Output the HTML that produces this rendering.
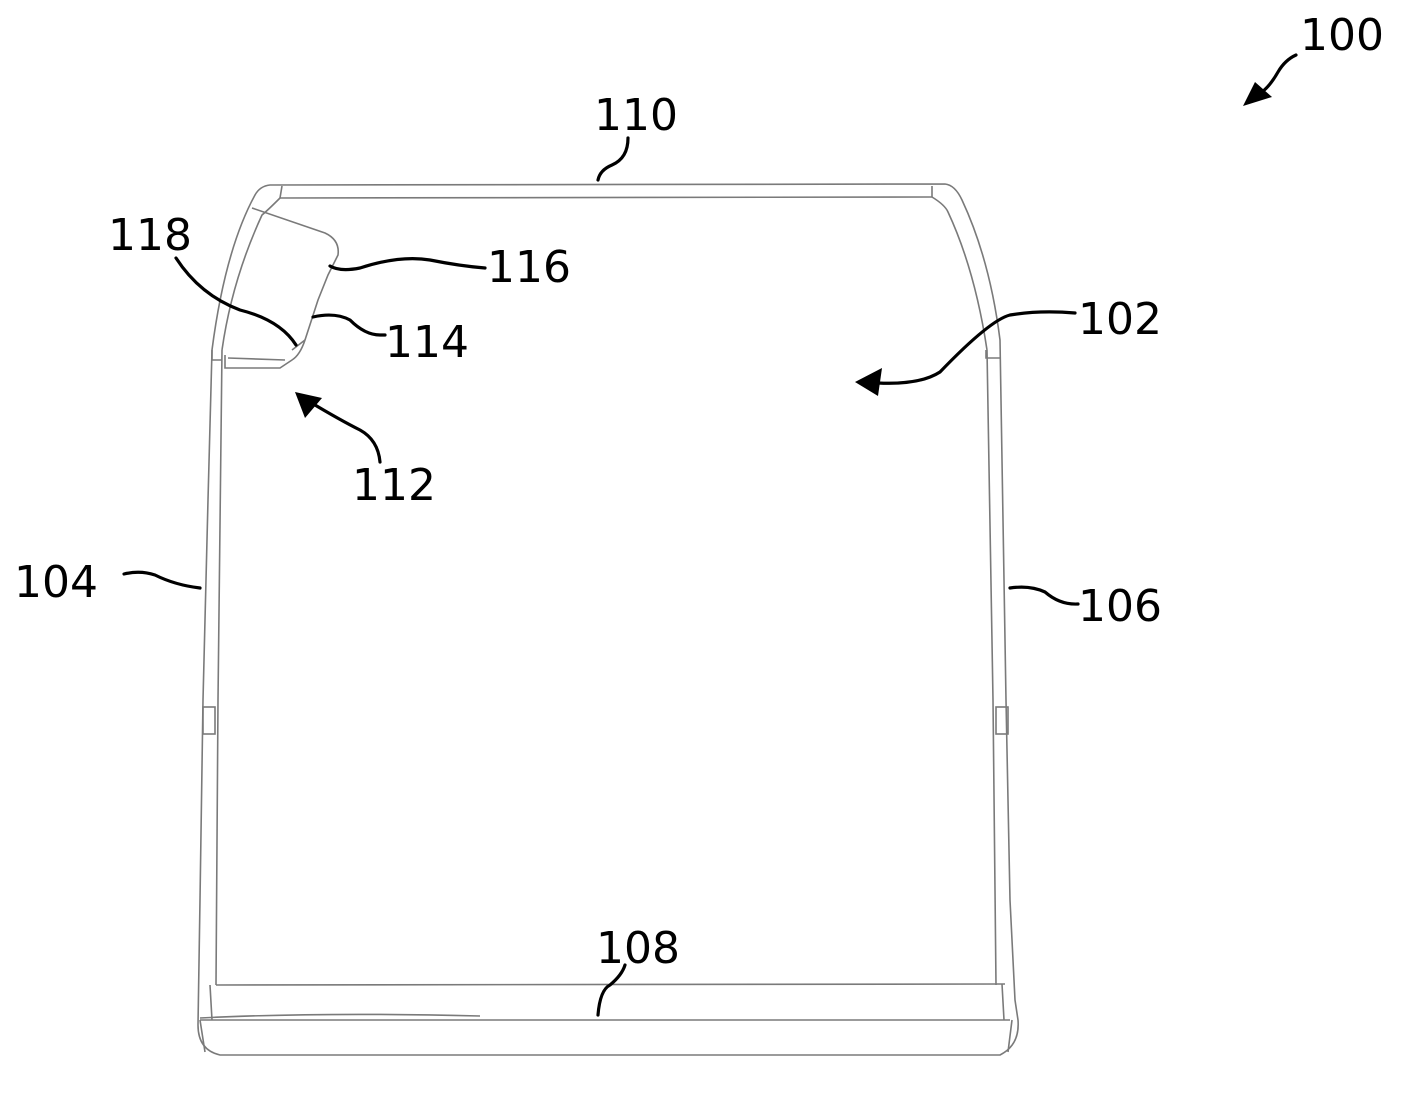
<!DOCTYPE html>
<html><head><style>
html,body{margin:0;padding:0;background:#fff;}
svg{display:block;}
text{font-family:"DejaVu Sans","Liberation Sans",sans-serif;font-size:44px;fill:#000;}
</style></head><body>
<svg width="1418" height="1101" viewBox="0 0 1418 1101">
<g fill="none" stroke="#7a7a7a" stroke-width="1.6">
<path d="M270 185 L945 184 Q955 185 962 200 Q990 260 1000 340 L1006 700 L1010 900 L1015 1000 L1018 1020 Q1020 1045 1000 1055 L220 1055 Q198 1050 198 1025 L200 900 L203 700 L208 500 L212 350 Q225 250 255 195 Q260 186 270 185 Z"/>
<path d="M282 186 L280 198 L932 197 L932 186"/>
<path d="M932 197 Q945 205 948 212 Q975 270 987 350"/>
<path d="M280 198 Q268 210 262 215 Q232 280 222 350"/>
<path d="M222 350 L218 700 L216 985"/>
<path d="M212 350 L212 360 L222 360"/>
<path d="M987 350 L993 700 L996 985"/>
<path d="M986 350 L986 358 L1000 358"/>
<rect x="203" y="707" width="12" height="27"/>
<rect x="996" y="707" width="12" height="27"/>
<path d="M216 985 L1005 984"/>
<path d="M200 1020 L1010 1020"/>
<path d="M210 985 L212 1020 M1002 984 L1004 1020"/>
<path d="M200 1020 L205 1052 M1012 1020 L1008 1052"/>
<path d="M200 1018 Q320 1012 480 1016"/>
<path d="M252 208 L325 233 Q340 240 338 255 L328 275 L318 300 L305 340 Q300 355 292 360 L280 368 L225 368 L225 355"/>
<path d="M228 358 L285 360"/>
<path d="M292 350 L305 340"/>
</g>
<g fill="none" stroke="#000" stroke-width="3.2" stroke-linecap="round">
<path d="M1296 55 Q1285 60 1278 72 Q1270 86 1262 92"/>
<path d="M598 180 Q600 170 612 165 Q628 158 628 138"/>
<path d="M330 266 Q340 272 360 268 Q400 255 430 260 Q460 266 485 268"/>
<path d="M313 317 Q335 312 350 320 Q365 335 380 335 L385 335"/>
<path d="M176 258 Q200 295 240 310 Q280 320 296 345"/>
<path d="M310 402 Q340 420 360 430 Q378 440 380 462"/>
<path d="M878 383 Q920 385 940 372 Q990 320 1010 315 Q1040 310 1075 313"/>
<path d="M124 574 Q140 570 155 575 Q175 585 200 588"/>
<path d="M1010 588 Q1030 585 1045 592 Q1060 605 1078 604"/>
<path d="M598 1015 Q600 990 610 985 Q622 975 625 965"/>
</g>
<g fill="#000">
<polygon points="1243,106 1255,82 1272,97"/>
<polygon points="855,382 882,368 878,396"/>
<polygon points="295,392 322,398 305,418"/>
</g>
<text x="1300" y="50">100</text>
<text x="594" y="130">110</text>
<text x="108" y="250">118</text>
<text x="487" y="282">116</text>
<text x="385" y="357">114</text>
<text x="1078" y="334">102</text>
<text x="352" y="500">112</text>
<text x="14" y="597">104</text>
<text x="1078" y="621">106</text>
<text x="596" y="963">108</text>
</svg>
</body></html>
